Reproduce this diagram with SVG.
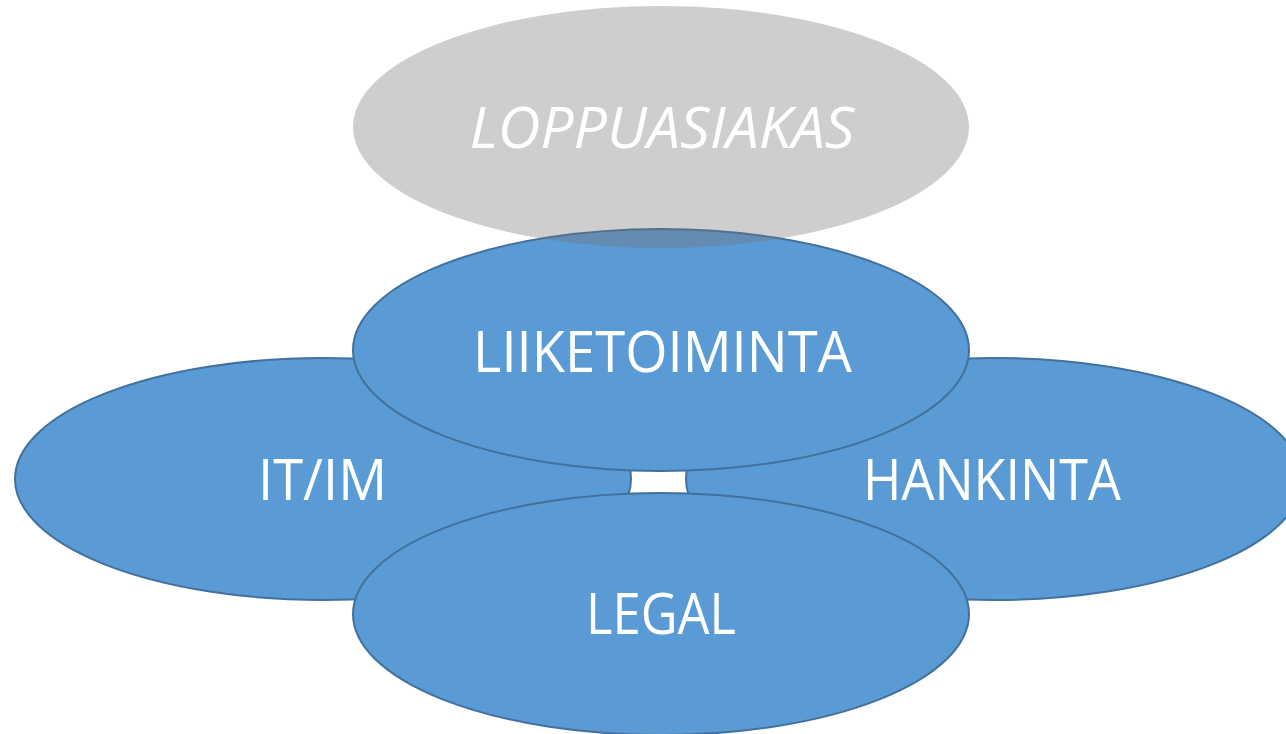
<svg xmlns="http://www.w3.org/2000/svg" width="1286" height="734" viewBox="0 0 1286 734">
<style>
.blob{fill:#5b9bd5;stroke:#41719c;stroke-width:2}
.lbl{font-family:"Open Sans","Noto Sans","Liberation Sans",sans-serif;font-size:56px;fill:#ffffff;text-anchor:middle}
.it{font-style:italic}
</style>
<rect width="1286" height="734" fill="#ffffff"/>
<g id="itim">
<ellipse class="blob" cx="323" cy="479" rx="308" ry="121"/>
<text class="lbl" x="322.5" y="500" textLength="129" lengthAdjust="spacingAndGlyphs">IT/IM</text>
</g>
<g id="hankinta">
<ellipse class="blob" cx="994" cy="479" rx="308" ry="121"/>
<text class="lbl" x="992" y="500" textLength="258" lengthAdjust="spacingAndGlyphs">HANKINTA</text>
</g>
<g id="liiketoiminta">
<ellipse class="blob" cx="661" cy="350" rx="308" ry="121"/>
<text class="lbl" x="662.5" y="372" textLength="379" lengthAdjust="spacingAndGlyphs">LIIKETOIMINTA</text>
</g>
<g id="legal">
<ellipse class="blob" cx="661" cy="614" rx="308" ry="121"/>
<text class="lbl" x="661" y="634" textLength="150" lengthAdjust="spacingAndGlyphs">LEGAL</text>
</g>
<g id="loppuasiakas">
<ellipse cx="661" cy="127" rx="308" ry="121" fill="#767072" fill-opacity="0.35"/>
<text class="lbl it" x="662" y="148" textLength="385" lengthAdjust="spacingAndGlyphs">LOPPUASIAKAS</text>
</g>
<g id="connectors"/>
</svg>
